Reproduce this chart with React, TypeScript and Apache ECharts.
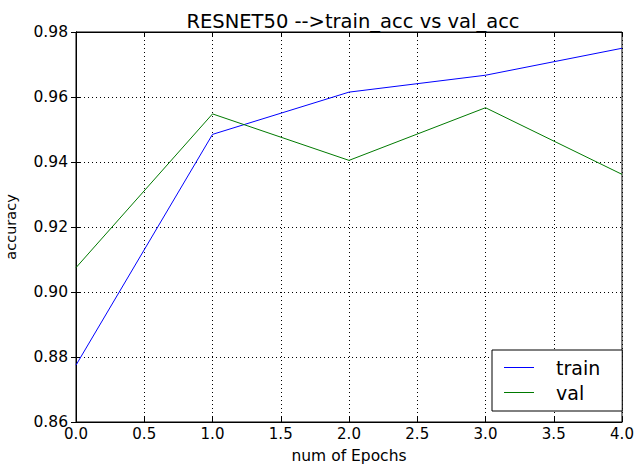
import React, { useEffect, useRef } from "react";
import * as echarts from "echarts";

const epochs = [0, 1, 2, 3, 4];
const trainAcc = [0.8775, 0.9485, 0.9615, 0.9667, 0.975];
const valAcc = [0.9075, 0.9548, 0.9405, 0.9567, 0.9362];
const seriesNames = ["train", "val"];
const titleText = "RESNET50 -->train_acc vs val_acc";
const xName = "num of Epochs";
const yName = "accuracy";

const FONT = "DejaVu Sans";

export default function App() {
  const ref = useRef<HTMLDivElement>(null);
  useEffect(() => {
    document.body.style.margin = "0";
    const chart = echarts.init(ref.current!, null, { renderer: "svg" });
    const toPairs = (ys: number[]) => epochs.map((x, i) => [x, ys[i]]);
    const grid = {
      left: 76,
      top: 32,
      right: 12,
      bottom: 44,
      outerBoundsMode: "none",
      containLabel: false,
      show: true,
      borderColor: "#000",
      borderWidth: 1,
      backgroundColor: "#fff",
    };
    const tickStyle = { show: true, inside: true, length: 5, lineStyle: { color: "#000", width: 1 } };
    chart.setOption({
      animation: false,
      backgroundColor: "#fff",
      textStyle: { fontFamily: FONT },
      title: {
        text: titleText,
        left: 348,
        top: 6,
        textAlign: "center",
        textStyle: { fontFamily: FONT, fontSize: 19.5, fontWeight: "normal", color: "#000" },
      },
      grid,
      legend: {
        orient: "vertical",
        left: 492,
        top: 350,
        width: 130,
        data: seriesNames,
        backgroundColor: "#fff",
        borderColor: "#000",
        borderWidth: 1,
        borderRadius: 0,
        padding: [8, 22, 9, 12],
        itemGap: 6,
        itemWidth: 30,
        itemHeight: 1,
        icon: "rect",
        textStyle: { fontFamily: FONT, fontSize: 19, color: "#000", padding: [0, 0, 0, 17] },
      },
      xAxis: [
        {
          type: "value",
          min: 0,
          max: 4,
          interval: 0.5,
          name: xName,
          nameLocation: "middle",
          nameGap: 26,
          nameTextStyle: { fontFamily: FONT, fontSize: 15.5, color: "#000" },
          axisLine: { show: true, lineStyle: { color: "#000", width: 1 } },
          axisTick: tickStyle,
          axisLabel: { fontFamily: FONT, fontSize: 15, color: "#000", margin: 4, formatter: (v: number) => v.toFixed(1) },
          splitLine: { show: true, lineStyle: { color: "#000", type: [1, 3], width: 1 } },
        },
        {
          type: "value",
          position: "top",
          min: 0,
          max: 4,
          interval: 0.5,
          axisLine: { show: true, lineStyle: { color: "#000", width: 1 } },
          axisTick: tickStyle,
          axisLabel: { show: false },
          splitLine: { show: false },
        },
      ],
      yAxis: [
        {
          type: "value",
          min: 0.86,
          max: 0.98,
          interval: 0.02,
          name: yName,
          nameLocation: "middle",
          nameGap: 58,
          nameTextStyle: { fontFamily: FONT, fontSize: 14.5, color: "#000" },
          axisLine: { show: true, lineStyle: { color: "#000", width: 1 } },
          axisTick: tickStyle,
          axisLabel: { fontFamily: FONT, fontSize: 15.5, color: "#000", margin: 8, formatter: (v: number) => v.toFixed(2) },
          splitLine: { show: true, lineStyle: { color: "#000", type: [1, 3], width: 1 } },
        },
        {
          type: "value",
          position: "right",
          min: 0.86,
          max: 0.98,
          interval: 0.02,
          axisLine: { show: true, lineStyle: { color: "#000", width: 1 } },
          axisTick: tickStyle,
          axisLabel: { show: false },
          splitLine: { show: false },
        },
      ],
      series: [
        {
          name: seriesNames[0],
          type: "line",
          data: toPairs(trainAcc),
          symbol: "none",
          color: "#0000ff",
          lineStyle: { color: "#0000ff", width: 1 },
        },
        {
          name: seriesNames[1],
          type: "line",
          data: toPairs(valAcc),
          symbol: "none",
          color: "#007a00",
          lineStyle: { color: "#007a00", width: 1 },
        },
      ],
    });
    return () => chart.dispose();
  }, []);
  return <div ref={ref} style={{ width: 634, height: 466 }} />;
}
